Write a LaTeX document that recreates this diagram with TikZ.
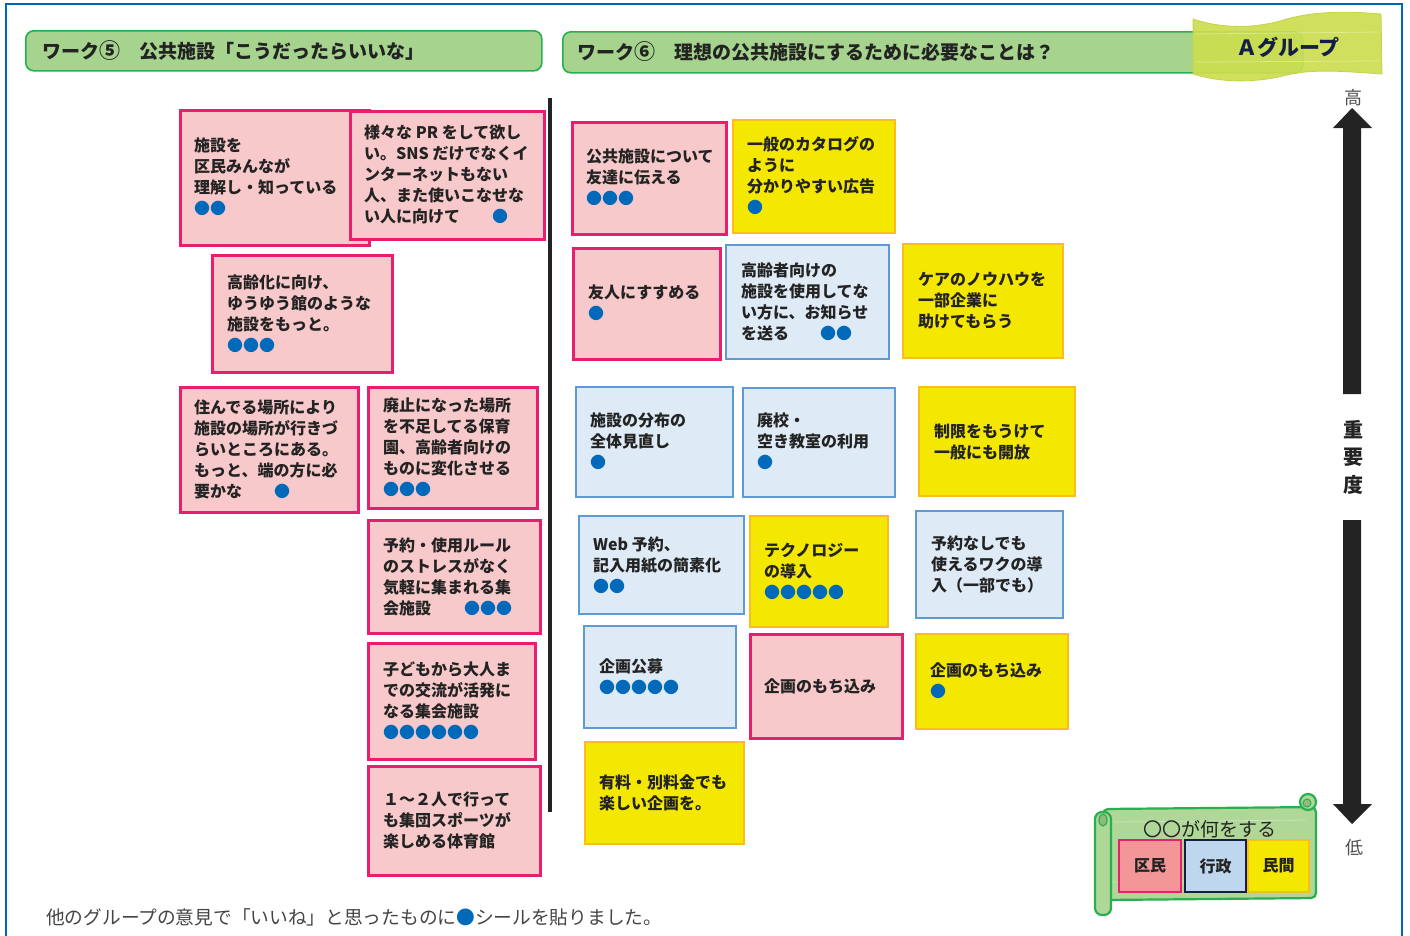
\documentclass[tikz,border=0pt]{standalone}
\usepackage{fontspec}
\setmainfont{Noto Sans CJK JP}
\definecolor{pinkfill}{RGB}{248,201,202}
\definecolor{pinkline}{RGB}{232,30,110}
\definecolor{yelfill}{RGB}{245,232,0}
\definecolor{yelline}{RGB}{250,188,30}
\definecolor{bluefill}{RGB}{222,234,246}
\definecolor{blueline}{RGB}{95,155,210}
\definecolor{dotblue}{RGB}{0,105,185}
\definecolor{grfill}{RGB}{166,211,141}
\definecolor{grline}{RGB}{40,175,80}
\definecolor{txt}{RGB}{35,35,35}
\definecolor{frameblue}{RGB}{0,105,180}
\definecolor{scrollA}{RGB}{205,222,80}
\definecolor{navy}{RGB}{20,30,70}
\newcommand\seal[1]{{\color{dotblue}#1}}
\newcommand\stick[9]{%
  \node[#1, anchor=north west, minimum width={#5-#3}, minimum height={#6-#4}] (#2) at (#3,#4) {};
  \node[notetext, anchor=north west] (#2t) at (#7,{#8-7.5}) {#9};}
\begin{document}
\begin{tikzpicture}[x=1pt,y=-1pt,
  pinknote/.style={draw=pinkline, fill=pinkfill, line width=2.6pt, inner sep=0pt},
  yelnote/.style={draw=yelline, fill=yelfill, line width=2.4pt, inner sep=0pt},
  bluenote/.style={draw=blueline, fill=bluefill, line width=2.4pt, inner sep=0pt},
  notetext/.style={inner sep=0pt, align=left, text=txt, font={\fontsize{16}{21}\selectfont\bfseries}},
  banner/.style={draw=grline, fill=grfill, line width=1.6pt, rounded corners=8pt, inner sep=0pt},
  bannertext/.style={inner sep=0pt, text=txt, font={\fontsize{19}{22}\selectfont\bfseries}},
  axislabel/.style={inner sep=0pt, text=txt, font={\fontsize{18}{22}\selectfont}},
  legbox/.style={line width=2.4pt, inner sep=0pt, font={\fontsize{16}{20}\selectfont\bfseries}, text=txt}
]
\useasboundingbox (0,0) rectangle (1410,935);
\fill[white] (0,0) rectangle (1410,935);
% frame
\draw[frameblue, line width=2.5pt] (6,945) -- (6,4) -- (1402,4) -- (1402,945);

% banners
\node[banner, anchor=north west, minimum width=516, minimum height=40] (b5) at (25,30) {};
\node[bannertext, anchor=west] (b5t) at (42,51) {ワーク\raisebox{-0.5pt}{\fontsize{21}{22}\selectfont ⑤}　公共施設「こうだったらいいな」};
\node[banner, anchor=north west, minimum width=740, minimum height=41] (b6) at (562,31) {};
\node[bannertext, anchor=west] (b6t) at (577,52) {ワーク\raisebox{-0.5pt}{\fontsize{21}{22}\selectfont ⑥}　理想の公共施設にするために必要なことは？};

% A group scroll
\path[fill=scrollA, fill opacity=0.92, draw=scrollA!75!black!20!scrollA, line width=0.8pt]
  (1193,19) .. controls (1220,28) and (1250,29) .. (1280,21)
  .. controls (1305,13) and (1335,10) .. (1381,14)
  -- (1382,74)
  .. controls (1340,71) and (1312,69) .. (1287,75)
  .. controls (1260,82) and (1225,84) .. (1193,74) -- cycle;
\draw[white, opacity=0.35, line width=0.8pt] (1196,34) -- (1380,32);
\draw[white, opacity=0.35, line width=0.8pt] (1196,62) -- (1380,61);
\node[inner sep=0pt, text=navy, font={\fontsize{21}{24}\selectfont\bfseries}] (ag) at (1288,47) {Ａグループ};

% divider
\coordinate (dtop) at (550,98);
\coordinate (dbot) at (550,812);
\draw[txt, line width=4pt] (dtop) -- (dbot);

% left notes
\stick{pinknote}{p1}{179}{109}{368}{244}{194}{145}{施設を\\区民みんなが\\理解し・知っている\\\seal{●●}}
\stick{pinknote}{p2}{349}{110}{543}{238}{364}{132}{様々な PR をして欲し\\い。SNS だけでなくイ\\ンターネットもない\\人、また使いこなせな\\い人に向けて\hspace{32pt}\seal{●}}
\stick{pinknote}{p3}{211}{254}{391}{371}{227}{282}{高齢化に向け、\\ゆうゆう館のような\\施設をもっと。\\\seal{●●●}}
\stick{pinknote}{p4}{179}{386}{357}{511}{194}{407}{住んでる場所により\\施設の場所が行きづ\\らいところにある。\\もっと、端の方に必\\要かな\hspace{32pt}\seal{●}}
\stick{pinknote}{p5}{367}{386}{536}{507}{383}{405}{廃止になった場所\\を不足してる保育\\園、高齢者向けの\\ものに変化させる\\\seal{●●●}}
\stick{pinknote}{p6}{367}{519}{539}{632}{383}{545}{予約・使用ルール\\のストレスがなく\\気軽に集まれる集\\会施設\hspace{33pt}\seal{●●●}}
\stick{pinknote}{p7}{367}{642}{534}{758}{383}{669}{子どもから大人ま\\での交流が活発に\\なる集会施設\\\seal{●●●●●●}}
\stick{pinknote}{p8}{367}{765}{539}{874}{383}{799}{１～２人で行って\\も集団スポーツが\\楽しめる体育館}

% right notes
\stick{pinknote}{r1}{571}{121}{725}{233}{586}{156}{公共施設について\\友達に伝える\\\seal{●●●}}
\stick{yelnote}{r2}{732}{119}{894}{232}{747}{144}{一般のカタログの\\ように\\分かりやすい広告\\\seal{●}}
\stick{pinknote}{r3}{572}{247}{719}{358}{588}{292}{友人にすすめる\\\seal{●}}
\stick{bluenote}{r4}{725}{244}{888}{358}{741}{270}{高齢者向けの\\施設を使用してな\\い方に、お知らせ\\を送る\hspace{31pt}\seal{●●}}
\stick{yelnote}{r5}{902}{243}{1062}{357}{918}{280}{ケアのノウハウを\\一部企業に\\助けてもらう}
\stick{bluenote}{r6}{575}{386}{732}{496}{590}{420}{施設の分布の\\全体見直し\\\seal{●}}
\stick{bluenote}{r7}{742}{387}{894}{496}{757}{420}{廃校・\\空き教室の利用\\\seal{●}}
\stick{yelnote}{r8}{918}{386}{1074}{495}{934}{431}{制限をもうけて\\一般にも開放}
\stick{bluenote}{r9}{578}{515}{743}{613}{593}{544}{Web 予約、\\記入用紙の簡素化\\\seal{●●}}
\stick{yelnote}{r10}{749}{515}{887}{626}{764}{550}{テクノロジー\\の導入\\\seal{●●●●●}}
\stick{bluenote}{r11}{915}{510}{1062}{617}{931}{543}{予約なしでも\\使えるワクの導\\入（一部でも）}
\stick{bluenote}{r12}{583}{625}{735}{727}{599}{666}{企画公募\\\seal{●●●●●}}
\stick{pinknote}{r13}{749}{633}{901}{737}{764}{686}{企画のもち込み}
\stick{yelnote}{r14}{915}{633}{1067}{728}{930}{670}{企画のもち込み\\\seal{●}}
\stick{yelnote}{r15}{584}{741}{743}{843}{599}{782}{有料・別料金でも\\楽しい企画を。}

% importance axis
\fill[txt] (1343,394) -- (1343,128) -- (1333,128) -- (1352,108) -- (1372,128) -- (1361,128) -- (1361,394) -- cycle;
\fill[txt] (1343,520) -- (1343,804) -- (1333,804) -- (1352,824) -- (1372,804) -- (1361,804) -- (1361,520) -- cycle;
\node[axislabel, text=txt!80!white] (hi) at (1353,98) {高};
\node[axislabel, font={\fontsize{20}{24}\selectfont\bfseries}] (j1) at (1353,430) {重};
\node[axislabel, font={\fontsize{20}{24}\selectfont\bfseries}] (j2) at (1353,457) {要};
\node[axislabel, font={\fontsize{20}{24}\selectfont\bfseries}] (j3) at (1353,485) {度};
\node[axislabel, text=txt!80!white] (lo) at (1354,848) {低};

% legend scroll
\path[fill=grfill!90!white, draw=grline, line width=2.2pt, rounded corners=5pt] (1103,809) -- (1316,807) -- (1316,898) -- (1103,900) -- cycle;
\draw[grfill!60!white, line width=0.8pt] (1112,822) -- (1306,820);
\draw[grfill!60!white, line width=0.8pt] (1112,882) -- (1306,881);
\draw[fill=grfill!90!white, draw=grline, line width=2.2pt, rounded corners=7pt] (1095,812) rectangle (1111,915);
\draw[draw=grline, fill=grfill!70!black!40!grfill, line width=1.2pt] (1103,820) ellipse (4 and 6);
\draw[fill=grfill!90!white, draw=grline, line width=2.2pt] (1308,802) circle (8);
\draw[draw=grline, fill=grfill!60!black!30!grfill, line width=1pt] (1307,803) circle (4);
\node[inner sep=0pt, text=txt, font={\fontsize{19}{22}\selectfont}] (legt) at (1210,829) {〇〇が何をする};
\node[legbox, draw=pinkline, fill={rgb,255:red,242;green,150;blue,152}, anchor=north west, minimum width=62, minimum height=52] (lk) at (1118,839) {区民};
\node[legbox, draw=navy, fill={rgb,255:red,190;green,215;blue,238}, anchor=north west, minimum width=61, minimum height=52] (lg) at (1184,839) {行政};
\node[legbox, draw=yelline, fill=yelfill, anchor=north west, minimum width=61, minimum height=52] (lm) at (1247,839) {民間};

% caption
\node[inner sep=0pt, anchor=west, text=txt!85!white, font={\fontsize{18.7}{22}\selectfont}] (cap) at (46,917) {他のグループの意見で「いいね」と思ったものに\seal{●}シールを貼りました。};
\end{tikzpicture}
\end{document}
